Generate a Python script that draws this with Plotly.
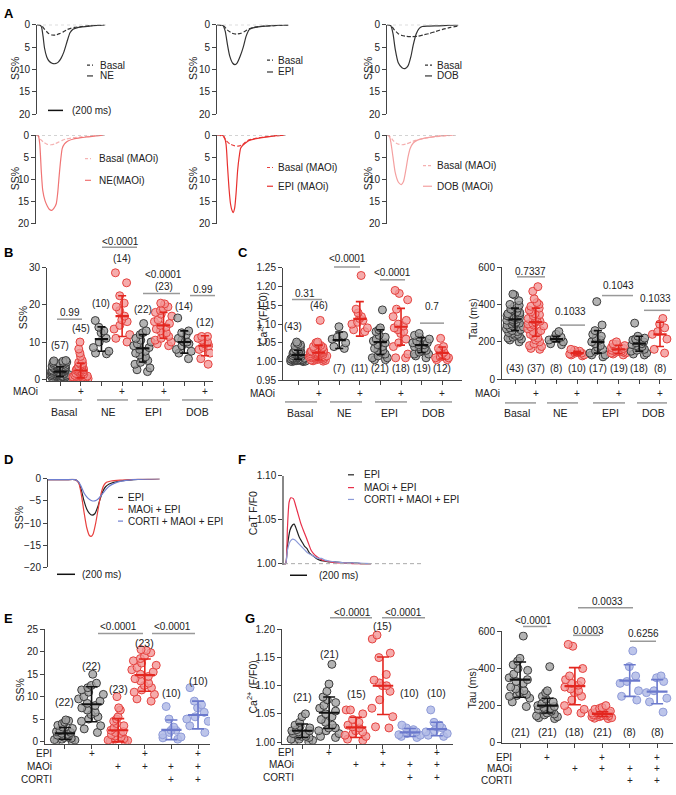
import plotly.graph_objects as go

W, H = 676, 795
FONT = "Arial, Liberation Sans, Helvetica, sans-serif"
AX = "#444444"

def px(x):
    return x / W

def py(y):
    return 1 - y / H

# ======================= DATA =======================
# ---- Panel A: SS% transients (time in ms) ----
A_ne_basal_t = [0, 60, 100, 150, 200, 250, 300, 350, 400, 450, 500, 600, 700, 800, 900]
A_ne_basal_v = [0, 0.2, 1.0, 1.9, 2.3, 2.3, 2.0, 1.6, 1.1, 0.8, 0.6, 0.4, 0.25, 0.1, 0.05]
A_ne_t = [0, 40, 60, 80, 100, 130, 160, 200, 240, 280, 320, 360, 400, 440, 480, 530, 600, 700, 800, 900]
A_ne_v = [0, 0.1, 0.5, 2.5, 5.2, 7.2, 8.1, 8.6, 8.7, 8.4, 7.5, 6.0, 3.8, 1.8, 1.0, 0.7, 0.5, 0.3, 0.15, 0.05]

A_epi_basal_t = [0, 90, 140, 200, 260, 320, 380, 430, 480, 550, 650, 750, 850, 950]
A_epi_basal_v = [0, 0.3, 1.2, 1.9, 2.1, 1.9, 1.4, 0.9, 0.6, 0.4, 0.3, 0.2, 0.1, 0.05]
A_epi_t = [0, 80, 110, 140, 170, 210, 240, 270, 310, 350, 390, 430, 480, 550, 650, 750, 850, 950]
A_epi_v = [0, 0.2, 1.5, 4.5, 7.0, 8.6, 8.9, 8.5, 7.0, 5.0, 2.5, 1.1, 0.7, 0.5, 0.3, 0.2, 0.1, 0.05]

A_dob_basal_t = [0, 60, 100, 150, 200, 260, 320, 400, 480, 560, 650, 750, 850, 950]
A_dob_basal_v = [0, 0.3, 1.2, 2.0, 2.4, 2.6, 2.65, 2.6, 2.3, 2.0, 1.5, 1.0, 0.6, 0.3]
A_dob_t = [0, 50, 80, 110, 150, 200, 240, 280, 320, 350, 390, 430, 470, 550, 650, 750, 850, 950]
A_dob_v = [0, 0.2, 2.0, 5.5, 8.5, 9.6, 9.8, 9.2, 7.0, 4.5, 2.0, 0.8, 0.4, 0.3, 0.25, 0.2, 0.1, 0.05]

A_ne_m_basal_t = [0, 40, 60, 100, 150, 200, 250, 300, 350, 400, 500, 600, 700, 800, 900]
A_ne_m_basal_v = [0, 0.3, 1.0, 1.6, 2.1, 2.2, 2.0, 1.6, 1.2, 0.9, 0.6, 0.4, 0.3, 0.15, 0.05]
A_ne_m_t = [0, 30, 50, 70, 90, 120, 150, 180, 210, 240, 270, 290, 310, 330, 350, 380, 420, 500, 600, 700, 800, 900]
A_ne_m_v = [0, 0.1, 2.0, 8.0, 12.5, 14.8, 16.0, 16.8, 17.0, 16.5, 15.5, 13.0, 9.0, 5.5, 3.0, 2.0, 1.4, 0.9, 0.6, 0.4, 0.2, 0.05]

A_epi_m_basal_t = [0, 80, 120, 170, 230, 280, 330, 380, 430, 500, 600, 700, 800, 900]
A_epi_m_basal_v = [0, 0.3, 1.2, 2.0, 2.4, 2.5, 2.3, 1.6, 1.1, 0.8, 0.5, 0.3, 0.15, 0.05]
A_epi_m_t = [0, 90, 120, 140, 160, 180, 200, 215, 235, 255, 275, 295, 315, 340, 380, 430, 500, 600, 700, 800, 900]
A_epi_m_v = [0, 0.2, 2.0, 7.0, 12.0, 15.5, 17.0, 17.5, 16.5, 13.0, 8.0, 5.0, 3.0, 2.4, 1.8, 1.2, 0.9, 0.6, 0.35, 0.15, 0.05]

A_dob_m_basal_t = [0, 40, 80, 130, 200, 260, 320, 380, 450, 550, 650, 750, 850, 900]
A_dob_m_basal_v = [0, 0.3, 1.2, 1.9, 2.2, 2.0, 1.6, 1.2, 0.9, 0.6, 0.4, 0.2, 0.1, 0]
A_dob_m_t = [0, 30, 50, 80, 110, 150, 190, 220, 250, 280, 310, 350, 400, 500, 600, 700, 800, 900]
A_dob_m_v = [0, 0.2, 1.5, 5.0, 8.5, 10.6, 11.2, 10.5, 8.0, 5.0, 3.0, 1.8, 1.2, 0.7, 0.4, 0.2, 0.1, 0]

# ---- Panel B: SS% ----
B_groups = ["Basal", "NE", "EPI", "DOB"]
B_basal = [0.1, 0.2, 0.3, 0.3, 0.4, 0.5, 0.5, 0.6, 0.7, 0.8, 0.8, 0.9, 1.0, 1.0, 1.1, 1.2, 1.2, 1.3, 1.4, 1.5,
           1.5, 1.6, 1.7, 1.8, 1.8, 1.9, 2.0, 2.0, 2.1, 2.2, 2.3, 2.4, 2.5, 2.5, 2.6, 2.7, 2.8, 2.9, 3.0, 3.1,
           3.2, 3.3, 3.4, 3.5, 3.6, 3.7, 3.8, 3.9, 4.0, 4.1, 4.2, 4.4, 4.5, 4.6, 4.8, 4.9, 5.0]
B_basal_maoi = [10.0, 8.1, 7.0, 6.1, 5.0, 4.5, 4.2, 4.0, 3.8, 3.5, 3.3, 3.0, 2.9, 2.7, 2.5, 2.4, 2.2, 2.0, 1.9, 1.8,
                1.7, 1.5, 1.4, 1.3, 1.2, 1.1, 1.0, 1.0, 0.9, 0.8, 0.7, 0.6, 0.6, 0.5, 0.5, 0.4, 0.4, 0.3, 0.3, 0.2,
                0.2, 0.1, 0.1, 0.0, 0.0]
B_ne = [15.8, 14.0, 13.0, 12.5, 11.0, 10.0, 8.5, 7.5, 7.0, 6.8]
B_ne_maoi = [28.7, 26.0, 22.5, 20.5, 19.5, 18.5, 17.0, 16.0, 15.5, 14.5, 13.5, 12.0, 11.0, 10.0]
B_epi = [15.0, 13.0, 12.5, 12.0, 11.0, 10.5, 10.0, 9.5, 9.0, 8.5, 8.0, 7.5, 7.0, 6.5, 6.0, 5.5, 5.0, 4.5, 4.0, 3.0, 2.5, 2.0]
B_epi_maoi = [20.5, 20.3, 19.5, 19.0, 18.5, 18.0, 17.5, 17.0, 16.0, 15.5, 15.0, 14.5, 14.0, 13.5, 13.0, 12.5, 12.0,
              11.5, 11.0, 10.5, 10.0, 9.5, 9.0]
B_dob = [16.5, 13.0, 12.5, 12.0, 11.0, 10.5, 10.0, 10.0, 9.5, 9.0, 8.0, 7.5, 7.0, 5.5]
B_dob_maoi = [11.5, 11.5, 11.0, 10.5, 10.0, 9.5, 9.0, 8.5, 8.0, 7.0, 5.5, 4.0]
B_mean = [2.0, 2.3, 10.8, 17.0, 8.3, 14.5, 10.0, 9.0]
B_sd = [1.3, 2.0, 3.3, 5.5, 3.7, 3.5, 3.0, 2.7]
B_p = ["0.99", "<0.0001", "<0.0001", "0.99"]

# ---- Panel C: Ca2+ (F/F0) ----
C_basal = [1.052, 1.048, 1.045, 1.042, 1.04, 1.038, 1.035, 1.033, 1.03, 1.028, 1.027, 1.025, 1.024, 1.022, 1.021,
           1.02, 1.019, 1.018, 1.017, 1.016, 1.015, 1.014, 1.013, 1.012, 1.011, 1.01, 1.01, 1.009, 1.008, 1.007,
           1.006, 1.006, 1.005, 1.005, 1.004, 1.003, 1.003, 1.002, 1.002, 1.001, 1.001, 1.0, 1.0]
C_basal_maoi = [1.11, 1.052, 1.05, 1.048, 1.045, 1.043, 1.04, 1.038, 1.036, 1.035, 1.033, 1.032, 1.03, 1.03, 1.028,
                1.027, 1.026, 1.025, 1.025, 1.024, 1.023, 1.022, 1.021, 1.02, 1.02, 1.019, 1.018, 1.017, 1.016,
                1.015, 1.015, 1.014, 1.013, 1.012, 1.011, 1.01, 1.01, 1.009, 1.008, 1.007, 1.006, 1.005, 1.004,
                1.003, 1.002, 1.001]
C_ne = [1.093, 1.070, 1.065, 1.060, 1.050, 1.040, 1.035]
C_ne_maoi = [1.230, 1.140, 1.130, 1.120, 1.115, 1.110, 1.105, 1.100, 1.090, 1.085, 1.080]
C_epi = [1.138, 1.090, 1.085, 1.080, 1.070, 1.065, 1.060, 1.055, 1.050, 1.045, 1.040, 1.035, 1.030, 1.030, 1.025,
         1.020, 1.015, 1.010, 1.010, 1.005, 1.005]
C_epi_maoi = [1.190, 1.182, 1.165, 1.140, 1.120, 1.110, 1.100, 1.095, 1.090, 1.085, 1.080, 1.075, 1.060, 1.050,
              1.040, 1.020, 1.010, 1.010]
C_dob = [1.075, 1.070, 1.065, 1.060, 1.055, 1.050, 1.050, 1.045, 1.045, 1.040, 1.040, 1.035, 1.030, 1.030, 1.025,
         1.020, 1.020, 1.015, 1.010]
C_dob_maoi = [1.062, 1.040, 1.035, 1.030, 1.025, 1.020, 1.015, 1.012, 1.010, 1.010, 1.005, 1.005]
C_mean = [1.018, 1.024, 1.057, 1.114, 1.052, 1.093, 1.044, 1.023]
C_sd = [0.012, 0.02, 0.022, 0.046, 0.033, 0.049, 0.02, 0.016]
C_p = ["0.31", "<0.0001", "<0.0001", "0.7"]

# ---- Panel C (right): Tau (ms) ----
T_basal = [455, 450, 420, 400, 395, 390, 380, 375, 370, 360, 355, 350, 345, 340, 335, 330, 325, 320, 318, 315,
           310, 305, 300, 300, 295, 290, 285, 280, 275, 270, 265, 260, 255, 250, 245, 240, 235, 230, 225, 220,
           215, 210, 200]
T_basal_maoi = [495, 470, 430, 410, 400, 390, 380, 370, 360, 350, 345, 340, 330, 325, 320, 315, 310, 305, 300,
                295, 290, 285, 280, 270, 260, 255, 250, 240, 230, 220, 210, 200, 190, 180, 175, 165, 160]
T_ne = [255, 240, 225, 220, 210, 200, 190, 185]
T_ne_maoi = [160, 155, 150, 145, 140, 140, 135, 130, 130, 125]
T_epi = [415, 290, 260, 240, 230, 220, 210, 200, 190, 180, 170, 160, 150, 140, 130, 130, 120]
T_epi_maoi = [200, 190, 185, 180, 175, 170, 165, 160, 160, 155, 155, 150, 150, 145, 145, 140, 140, 135, 130]
T_dob = [300, 230, 220, 215, 210, 200, 195, 190, 185, 180, 175, 170, 160, 155, 150, 140, 135, 130]
T_dob_maoi = [325, 295, 275, 255, 240, 215, 160, 140]
T_mean = [320, 305, 215, 140, 200, 160, 190, 240]
T_sd = [60, 75, 15, 10, 60, 22, 40, 65]
T_p = ["0.7337", "0.1033", "0.1043", "0.1033"]

# ---- Panel D: SS% transients ----
D_epi_t = [0, 100, 200, 300, 340, 370, 400, 430, 460, 490, 520, 550, 580, 610, 640, 680, 730, 800, 900, 1000, 1100, 1240]
D_epi_v = [-0.2, -0.2, -0.2, -0.2, -0.8, -2.5, -5.0, -6.8, -7.8, -8.2, -7.9, -6.5, -4.5, -2.8, -1.8, -1.2, -0.8,
           -0.5, -0.3, -0.15, -0.05, 0]
D_maoi_t = [0, 100, 200, 300, 340, 370, 400, 430, 460, 480, 500, 530, 560, 590, 620, 650, 700, 800, 900, 1000, 1240]
D_maoi_v = [-0.2, -0.2, -0.2, -0.2, -0.9, -3.5, -7.5, -11.0, -12.8, -13.0, -12.5, -10.0, -6.5, -3.3, -1.5, -0.8,
            -0.5, -0.3, -0.2, -0.1, 0]
D_corti_t = [0, 100, 200, 300, 340, 370, 400, 440, 480, 520, 560, 600, 640, 680, 730, 800, 900, 1000, 1240]
D_corti_v = [-0.2, -0.2, -0.2, -0.2, -0.7, -1.8, -3.2, -4.3, -4.9, -5.0, -4.5, -3.5, -2.5, -1.7, -1.1, -0.6, -0.3,
             -0.15, 0]
D_labels = ["EPI", "MAOi + EPI", "CORTI + MAOI + EPI"]

# ---- Panel F: CaT F/F0 transients ----
F_epi_t = [0, 20, 40, 70, 100, 120, 150, 180, 210, 240, 270, 300, 340, 380, 420, 460, 520, 600, 700, 800, 900, 1020]
F_epi_v = [1.0, 1.0, 1.02, 1.038, 1.044, 1.045, 1.038, 1.03, 1.025, 1.02, 1.017, 1.012, 1.009, 1.006, 1.004, 1.003,
           1.002, 1.002, 1.001, 1.001, 1.0, 1.0]
F_maoi_t = [0, 20, 40, 60, 80, 110, 140, 170, 200, 240, 280, 320, 360, 400, 450, 500, 600, 700, 800, 1020]
F_maoi_v = [1.0, 1.0, 1.04, 1.07, 1.075, 1.074, 1.065, 1.055, 1.045, 1.035, 1.025, 1.015, 1.01, 1.007, 1.004, 1.003,
            1.001, 1.001, 1.0, 1.0]
F_corti_t = [0, 20, 40, 70, 100, 130, 160, 200, 240, 280, 320, 360, 400, 440, 480, 530, 600, 700, 800, 1020]
F_corti_v = [1.0, 1.0, 1.015, 1.025, 1.028, 1.027, 1.024, 1.02, 1.016, 1.012, 1.01, 1.008, 1.006, 1.006, 1.004,
             1.003, 1.002, 1.001, 1.001, 1.0]

# ---- Panel E: SS% ----
E_g = [[4.8, 4.6, 4.3, 4.0, 3.6, 3.2, 2.9, 2.5, 2.2, 2.0, 1.8, 1.6, 1.4, 1.2, 1.0, 0.9, 0.7, 0.5, 0.4, 0.3, 0.2, 0.1],
       [15.0, 13.0, 12.5, 12.0, 11.5, 11.0, 10.5, 10.0, 9.5, 9.0, 8.5, 8.0, 7.5, 7.0, 6.5, 6.0, 5.5, 5.0, 4.5, 3.5, 2.8, 2.0],
       [10.0, 7.5, 7.0, 5.5, 5.0, 4.5, 4.0, 3.5, 3.0, 2.5, 2.2, 2.0, 1.8, 1.5, 1.2, 1.0, 0.8, 0.6, 0.5, 0.3, 0.2, 0.1, 0.0],
       [20.5, 20.3, 19.8, 19.0, 18.5, 18.0, 17.5, 17.0, 16.5, 16.0, 15.5, 15.0, 14.5, 14.0, 13.5, 13.0, 12.5, 12.0,
        11.5, 11.0, 10.5, 9.5, 9.0],
       [7.8, 5.0, 3.2, 2.5, 2.5, 2.0, 1.5, 1.0, 0.8, 0.5],
       [12.0, 9.0, 8.2, 7.5, 6.5, 5.5, 5.0, 4.5, 3.5, 2.0]]
E_mean = [1.8, 8.3, 2.5, 14.8, 2.6, 5.9]
E_sd = [1.3, 3.9, 2.6, 3.6, 2.2, 3.1]
E_p = ["<0.0001", "<0.0001"]

# ---- Panel G: Ca2+ (F/F0) ----
G_g = [[1.050, 1.045, 1.035, 1.030, 1.028, 1.025, 1.022, 1.020, 1.020, 1.018, 1.015, 1.015, 1.012, 1.010, 1.010,
        1.008, 1.005, 1.005, 1.003, 1.002, 1.000],
       [1.138, 1.103, 1.090, 1.080, 1.075, 1.070, 1.065, 1.060, 1.055, 1.050, 1.045, 1.040, 1.035, 1.030, 1.025,
        1.025, 1.020, 1.020, 1.015, 1.010, 1.008],
       [1.057, 1.057, 1.050, 1.040, 1.035, 1.030, 1.027, 1.025, 1.020, 1.018, 1.015, 1.012, 1.010, 1.005, 1.003],
       [1.190, 1.183, 1.158, 1.150, 1.120, 1.110, 1.105, 1.100, 1.100, 1.090, 1.075, 1.060, 1.045, 1.027, 1.025],
       [1.030, 1.025, 1.022, 1.020, 1.018, 1.015, 1.013, 1.012, 1.010, 1.008],
       [1.057, 1.035, 1.030, 1.027, 1.025, 1.020, 1.018, 1.015, 1.012, 1.010]]
G_mean = [1.020, 1.052, 1.026, 1.100, 1.017, 1.023]
G_sd = [0.012, 0.028, 0.018, 0.051, 0.007, 0.012]
G_p = ["<0.0001", "<0.0001"]

# ---- Panel G (right): Tau (ms) ----
GT_g = [[575, 455, 440, 420, 400, 390, 370, 350, 340, 330, 320, 300, 290, 280, 270, 260, 255, 250, 240, 220, 195],
        [410, 280, 270, 250, 235, 220, 210, 200, 195, 190, 185, 180, 175, 170, 160, 155, 150, 145, 140, 135, 130],
        [530, 520, 400, 360, 340, 330, 320, 310, 300, 290, 280, 270, 250, 230, 200, 180, 170, 160],
        [200, 190, 185, 180, 175, 170, 165, 160, 160, 155, 155, 150, 150, 148, 145, 145, 140, 140, 135, 132, 130],
        [495, 410, 360, 330, 320, 280, 250, 230],
        [360, 350, 330, 280, 270, 240, 220, 165]]
GT_mean = [340, 200, 305, 155, 335, 275]
GT_sd = [95, 40, 100, 12, 85, 65]
GT_p = ["<0.0001", "0.0033", "0.0003", "0.6256"]

# Treatment rows for E/G
EPI_row = ["", "+", "", "+", "", "+"]
MAOI_row = ["", "", "+", "+", "+", "+"]
CORTI_row = ["", "", "", "", "+", "+"]

# ======================= FIGURE =======================
fig = go.Figure()
layout = dict(width=W, height=H, margin=dict(l=0, r=0, t=0, b=0), paper_bgcolor="white",
              plot_bgcolor="white", showlegend=False, boxmode="overlay",
              font=dict(family=FONT, size=10, color="#222"))
annotations = []
shapes = []
TS = 10  # default text size

def axid(i):
    return ("x" if i == 1 else f"x{i}"), ("y" if i == 1 else f"y{i}")

def set_axes(i, box, xr, yr, yticks, yfmt=None, xticks=None, ylw=1, ycol=AX):
    x0, x1, yt, yb = box
    xk = "xaxis" if i == 1 else f"xaxis{i}"
    yk = "yaxis" if i == 1 else f"yaxis{i}"
    xa, ya = axid(i)
    xd = dict(domain=[px(x0), px(x1)], range=xr, anchor=ya, showgrid=False, zeroline=False, fixedrange=True)
    if xticks is not None:
        xd.update(showline=True, linecolor=AX, linewidth=1, ticks="outside", ticklen=4, tickcolor=AX,
                  tickvals=xticks, showticklabels=False)
    else:
        xd.update(visible=False)
    yd = dict(domain=[py(yb), py(yt)], range=yr, anchor=xa, showgrid=False, zeroline=False, fixedrange=True,
              showline=True, linecolor=ycol, linewidth=ylw, ticks="outside", ticklen=4, tickcolor=AX,
              tickvals=yticks, tickfont=dict(size=10, color="#222"))
    if yfmt:
        yd["tickformat"] = yfmt
    layout[xk] = xd
    layout[yk] = yd

def txt(x, y, s, size=TS, xanchor="center", bold=False, angle=0, xref="paper", color="#222"):
    annotations.append(dict(x=(px(x) if xref == "paper" else x), y=py(y), xref=xref, yref="paper",
                            text=(f"<b>{s}</b>" if bold else s), showarrow=False, xanchor=xanchor,
                            yanchor="middle", textangle=angle,
                            font=dict(size=size, family=FONT, color=color)))

def hline(x0, x1, y, color="#999999", width=1.5, dash="solid"):
    shapes.append(dict(type="line", xref="paper", yref="paper", x0=px(x0), x1=px(x1), y0=py(y), y1=py(y),
                       line=dict(color=color, width=width, dash=dash)))

def curve(i, t, v, color, dash="solid", width=1.2):
    xa, ya = axid(i)
    fig.add_trace(go.Scatter(x=t, y=v, xaxis=xa, yaxis=ya, mode="lines", cliponaxis=False, hoverinfo="skip",
                             line=dict(color=color, width=width, dash=dash, shape="spline", smoothing=0.6)))

GREY = dict(fill="rgba(160,160,160,0.8)", edge="#3c3c3c", line="#111111")
RED = dict(fill="rgba(243,150,150,0.8)", edge="#e5423f", line="#e3261f")
BLUE = dict(fill="rgba(178,187,230,0.85)", edge="#8f9bd8", line="#6b79cc")

def dot_panel(i, groups, means, sds, styles, bw, jit, mw, cap, msize=8):
    xa, ya = axid(i)
    for k, (vals, st) in enumerate(zip(groups, styles)):
        fig.add_trace(go.Box(x=[k] * len(vals), y=vals, xaxis=xa, yaxis=ya, boxpoints="all", jitter=jit,
                             pointpos=0, width=bw, fillcolor="rgba(0,0,0,0)", whiskerwidth=0,
                             line=dict(width=0, color="rgba(0,0,0,0)"), hoverinfo="skip",
                             marker=dict(size=msize, color=st["fill"], line=dict(color=st["edge"], width=1))))
    for k, (m, s, st) in enumerate(zip(means, sds, styles)):
        fig.add_trace(go.Scatter(x=[k], y=[m], xaxis=xa, yaxis=ya, mode="markers", hoverinfo="skip",
                                 marker=dict(size=1, color="rgba(0,0,0,0)"),
                                 error_y=dict(type="data", array=[s], width=cap, thickness=1.6, color=st["line"])))
        fig.add_trace(go.Scatter(x=[k - mw, k + mw], y=[m, m], xaxis=xa, yaxis=ya, mode="lines",
                                 hoverinfo="skip", line=dict(color=st["line"], width=2.2)))

# ---------- Panel A ----------
A_boxes = {1: (37, 112, 19, 110), 2: (217, 292, 19, 110), 3: (387, 462, 19, 110),
           4: (36, 111, 131, 221), 5: (217, 292, 131, 221), 6: (387, 462, 131, 221)}
for i, b in A_boxes.items():
    set_axes(i, b, [0, 1000], [20, 0], [0, 5, 10, 15, 20])
    xa, ya = axid(i)
    shapes.append(dict(type="line", xref=xa, yref=ya, x0=0, x1=950, y0=0, y1=0,
                       line=dict(color="#aaaaaa", width=1, dash="dot")))

DK = "#333333"
curve(1, A_ne_basal_t, A_ne_basal_v, DK, dash="4px,2px")
curve(1, A_ne_t, A_ne_v, DK)
curve(2, A_epi_basal_t, A_epi_basal_v, DK, dash="4px,2px")
curve(2, A_epi_t, A_epi_v, DK)
curve(3, A_dob_basal_t, A_dob_basal_v, DK, dash="4px,2px")
curve(3, A_dob_t, A_dob_v, DK)
curve(4, A_ne_m_basal_t, A_ne_m_basal_v, "#f5b3b3", dash="4px,2px")
curve(4, A_ne_m_t, A_ne_m_v, "#f07474")
curve(5, A_epi_m_basal_t, A_epi_m_basal_v, "#e8403e", dash="4px,2px")
curve(5, A_epi_m_t, A_epi_m_v, "#e8302e")
curve(6, A_dob_m_basal_t, A_dob_m_basal_v, "#f5b0b0", dash="4px,2px")
curve(6, A_dob_m_t, A_dob_m_v, "#f4a0a0")

for (x, y) in [(15, 64), (193, 64), (368, 64), (15, 176), (193, 176), (368, 176)]:
    txt(x, y, "SS%", size=10.5, angle=-90)

# A legends
A_leg = [(87, 93, 98, 60, 71, "Basal", "NE", DK, DK),
         (267, 273, 276, 55, 67, "Basal", "EPI", DK, DK),
         (425, 432, 435, 60, 71, "Basal", "DOB", DK, DK),
         (85, 91, 97, 155, 177, "Basal (MAOi)", "NE(MAOi)", "#f5b3b3", "#f07474"),
         (267, 273, 276, 164, 183, "Basal (MAOi)", "EPI (MAOi)", "#e8403e", "#e8302e"),
         (423, 432, 435, 162, 183, "Basal (MAOi)", "DOB (MAOi)", "#f5b0b0", "#f4a0a0")]
for (l0, l1, tx, y1, y2, s1, s2, c1, c2) in A_leg:
    hline(l0, l1, y1, color=c1, width=1.2, dash="3px,2px")
    txt(tx, y1, s1, xanchor="left")
    hline(l0, l1, y2, color=c2, width=1.2)
    txt(tx, y2, s2, xanchor="left")
hline(48, 63, 106, color="#111", width=1.5)
txt(70, 106, "(200 ms)", xanchor="left")

# ---------- Panel B ----------
PAIR = [GREY, RED] * 4
set_axes(7, (47, 213, 266, 381), [-0.63, 7.39], [-0.6, 30], [0, 10, 20, 30], xticks=list(range(8)))
B_all = [B_basal, B_basal_maoi, B_ne, B_ne_maoi, B_epi, B_epi_maoi, B_dob, B_dob_maoi]
dot_panel(7, B_all, B_mean, B_sd, PAIR, bw=0.95, jit=1.0, mw=0.32, cap=4)
for k, yy in enumerate([345, 327, 302, 256, 308, 285, 305, 321]):
    txt(k, yy, f"({len(B_all[k])})", xref="x7")
for (x0, x1, yb, xt, yt), p in zip([(57, 82, 318, 70, 311), (102, 137, 245, 120, 239),
                                      (143, 180, 292, 163, 273), (190, 215, 294, 203, 288)], B_p):
    hline(x0, x1, yb)
    txt(xt, yt, p)
txt(40, 391, "MAOi", xanchor="right")
for k in [1, 3, 5, 7]:
    txt(k, 391, "+", xref="x7")
for (x0, x1, xc), g in zip([(49, 82, 64), (97, 128, 108), (137, 170, 153), (182, 213, 197)], B_groups):
    hline(x0, x1, 400)
    txt(xc, 412, g, size=10.5)
txt(23, 317, "SS%", size=10.5, angle=-90)

# ---------- Panel C ----------
set_axes(8, (283, 462, 266, 380), [-0.73, 7.96], [0.95, 1.25], [0.95, 1.0, 1.05, 1.1, 1.15, 1.2, 1.25],
         yfmt=".2f", xticks=list(range(8)))
C_all = [C_basal, C_basal_maoi, C_ne, C_ne_maoi, C_epi, C_epi_maoi, C_dob, C_dob_maoi]
dot_panel(8, C_all, C_mean, C_sd, PAIR, bw=0.95, jit=1.0, mw=0.32, cap=4)
C_cnt_pos = [(-0.25, 325), (1.0, 304), (2, 368), (3, 368), (4, 368), (5, 368), (6, 368), (7, 368)]
for k, (xx, yy) in enumerate(C_cnt_pos):
    txt(xx, yy, f"({len(C_all[k])})", xref="x8")
for (x0, x1, yb, xt, yt), p in zip([(292, 322, 298, 305, 292), (334, 360, 265, 347, 256),
                                      (380, 405, 278, 392, 271), (420, 444, 322, 432, 305)], C_p):
    hline(x0, x1, yb)
    txt(xt, yt, p)
txt(277, 393, "MAOi", xanchor="right")
for k in [1, 3, 5, 7]:
    txt(k, 393, "+", xref="x8")
for (x0, x1, xc), g in zip([(285, 317, 300), (330, 362, 344), (375, 407, 390), (420, 452, 434)], B_groups):
    hline(x0, x1, 402)
    txt(xc, 413, g, size=10.5)
txt(262, 318, "Ca<sup>2+</sup> (F/F0)", size=10.5, angle=-90)

# ---------- Panel C right (Tau) ----------
set_axes(9, (502, 672, 265, 379), [-0.63, 7.58], [0, 600], [0, 200, 400, 600], xticks=list(range(8)))
T_all = [T_basal, T_basal_maoi, T_ne, T_ne_maoi, T_epi, T_epi_maoi, T_dob, T_dob_maoi]
dot_panel(9, T_all, T_mean, T_sd, PAIR, bw=0.95, jit=1.0, mw=0.32, cap=4)
for k in range(8):
    txt(k, 368, f"({len(T_all[k])})", xref="x9")
for (x0, x1, yb, xt, yt), p in zip([(517, 545, 275, 530, 270), (560, 585, 324, 570, 310),
                                      (602, 633, 294, 618, 284), (644, 670, 309, 655, 297)], T_p):
    hline(x0, x1, yb)
    txt(xt, yt, p)
txt(502, 393, "MAOi", xanchor="right")
for k in [1, 3, 5, 7]:
    txt(k, 393, "+", xref="x9")
for (x0, x1, xc), g in zip([(505, 536, 517), (547, 578, 560), (593, 625, 610), (637, 667, 653)], B_groups):
    hline(x0, x1, 403)
    txt(xc, 413, g, size=10.5)
txt(473, 318, "Tau (ms)", size=10.5, angle=-90)

# ---------- Panel D ----------
set_axes(10, (48, 165, 480, 570), [0, 1300], [-20, 0], [0, -5, -10, -15, -20])
D_cols = ["#222222", "#e8403e", "#6f7fd0"]
curve(10, D_epi_t, D_epi_v, D_cols[0])
curve(10, D_maoi_t, D_maoi_v, D_cols[1])
curve(10, D_corti_t, D_corti_v, D_cols[2])
for yy, lab, col in zip([499, 511, 523], D_labels, D_cols):
    hline(118, 123, yy, color=col, width=1.2)
    txt(126, yy, lab, xanchor="left")
hline(57, 75, 577, color="#111", width=1.5)
txt(80, 577, "(200 ms)", xanchor="left")
txt(19, 520, "SS%", size=10.5, angle=-90)

# ---------- Panel F ----------
set_axes(11, (284, 422, 477, 568), [0, 1620], [0.998, 1.10], [1.0, 1.05, 1.1], yfmt=".2f", ylw=1.5,
         ycol="#888888")
shapes.append(dict(type="line", xref="x11", yref="y11", x0=0, x1=1620, y0=1.0, y1=1.0,
                   line=dict(color="#aaaaaa", width=1, dash="4px,3px")))
F_cols = ["#222222", "#e8304a", "#8d9bd8"]
curve(11, F_epi_t, F_epi_v, F_cols[0])
curve(11, F_maoi_t, F_maoi_v, F_cols[1])
curve(11, F_corti_t, F_corti_v, F_cols[2])
for yy, lab, col in zip([476, 489, 501], D_labels, F_cols):
    hline(348, 354, yy, color=col, width=1.2)
    txt(362, yy, lab, xanchor="left")
hline(290, 307, 578, color="#111", width=1.5)
txt(317, 578, "(200 ms)", xanchor="left")
txt(253, 515, "CaT F/F0", size=10.5, angle=-90)

# ---------- Panel E ----------
SIX = [GREY, GREY, RED, RED, BLUE, BLUE]
set_axes(12, (45, 210, 633, 749), [-0.75, 5.45], [-0.5, 25], [0, 5, 10, 15, 20, 25], xticks=list(range(6)))
dot_panel(12, E_g, E_mean, E_sd, SIX, bw=1.0, jit=1.0, mw=0.38, cap=6)
for k, yy in enumerate([707, 670, 693, 647, 698, 685]):
    txt(k, yy, f"({len(E_g[k])})", size=10.5, xref="x12")
for (x0, x1, yb, xt, yt), p in zip([(98, 143, 637, 118, 630), (152, 195, 637, 173, 630)], E_p):
    hline(x0, x1, yb)
    txt(xt, yt, p)
for lab, row, yy in zip(["EPI", "MAOi", "CORTI"], [EPI_row, MAOI_row, CORTI_row], [759, 772, 785]):
    txt(54, yy, lab, xanchor="right")
    for k, s in enumerate(row):
        if s:
            txt(k, yy, s, xref="x12")
txt(20, 695, "SS%", size=10.5, angle=-90)

# ---------- Panel G ----------
set_axes(13, (282, 453, 633, 749), [-0.75, 5.6], [0.997, 1.2], [1.0, 1.05, 1.1, 1.15, 1.2], yfmt=".2f",
         xticks=list(range(6)))
dot_panel(13, G_g, G_mean, G_sd, SIX, bw=1.0, jit=1.0, mw=0.38, cap=6)
for k, yy in enumerate([702, 658, 699, 630, 698, 698]):
    txt(k, yy, f"({len(G_g[k])})", size=10.5, xref="x13")
for (x0, x1, yb, xt, yt), p in zip([(330, 372, 621, 352, 616), (382, 425, 621, 403, 616)], G_p):
    hline(x0, x1, yb)
    txt(xt, yt, p)
for lab, row, yy in zip(["EPI", "MAOi", "CORTI"], [EPI_row, MAOI_row, CORTI_row], [758, 770, 783]):
    txt(296, yy, lab, xanchor="right")
    for k, s in enumerate(row):
        if s:
            txt(k, yy, s, xref="x13")
txt(252, 692, "Ca<sup>2+</sup> (F/F0)", size=10.5, angle=-90)

# ---------- Panel G right (Tau) ----------
set_axes(14, (502, 673, 635, 748), [-0.66, 5.58], [0, 600], [0, 200, 400, 600], xticks=list(range(6)))
dot_panel(14, GT_g, GT_mean, GT_sd, SIX, bw=1.0, jit=1.0, mw=0.38, cap=6)
for k in range(6):
    txt(k, 737, f"({len(GT_g[k])})", size=10.5, xref="x14")
for (x0, x1, yb, xt, yt), p in zip([(523, 547, 630, 533, 624), (578, 633, 611, 607, 605),
                                      (573, 600, 639, 588, 634), (630, 656, 645, 643, 637)], GT_p):
    hline(x0, x1, yb)
    txt(xt, yt, p)
for lab, row, yy in zip(["EPI", "MAOi", "CORTI"], [EPI_row, MAOI_row, CORTI_row], [763, 774, 786]):
    txt(514, yy, lab, xanchor="right")
    for k, s in enumerate(row):
        if s:
            txt(k, yy, s, xref="x14")
txt(472, 693, "Tau (ms)", size=10.5, angle=-90)

# ---------- Panel letters ----------
for (x, y, s) in [(2, 8, "A"), (2, 250, "B"), (236, 250, "C"), (2, 460, "D"), (236, 460, "F"),
                  (2, 622, "E"), (243, 622, "G")]:
    txt(x, y, s, size=13, bold=True, xanchor="left", color="#000")

layout["annotations"] = annotations
layout["shapes"] = shapes
fig.update_layout(**layout)
fig.write_html("out.html", config={"displayModeBar": False},
               post_script="document.body.style.margin='0px';document.body.style.overflow='hidden';")
